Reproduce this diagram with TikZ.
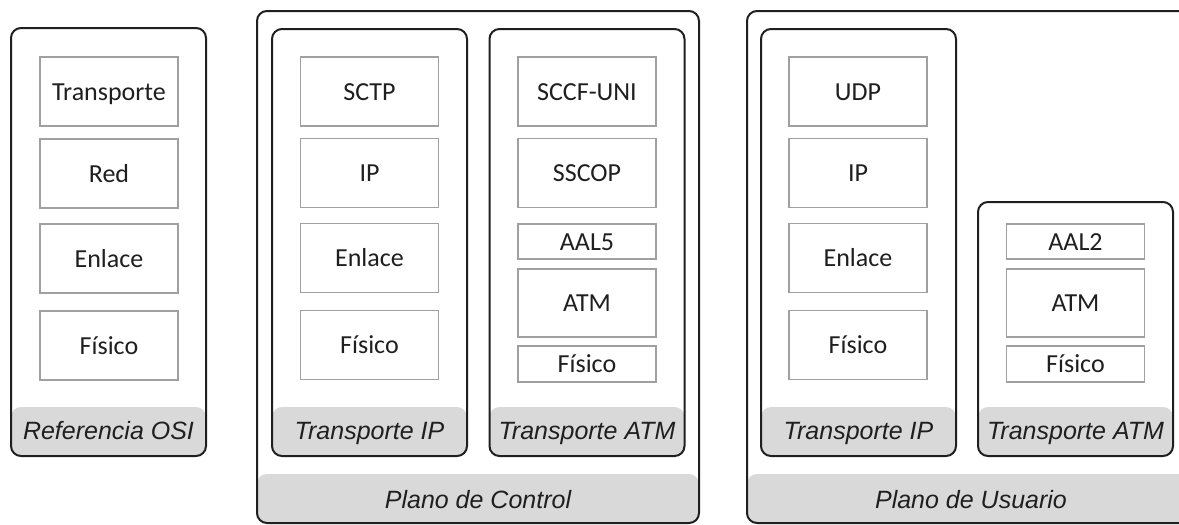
\documentclass[tikz,border=0pt]{standalone}
\usepackage{fontspec}
\setmainfont{Carlito}
\newfontfamily\rotulofont{Liberation Sans}
\usepackage{xcolor}
\usepackage{tikz}
\usetikzlibrary{positioning}

\definecolor{banda}{HTML}{D9D9D9}
\definecolor{borde}{HTML}{1F1F1F}
\definecolor{lineacapa}{HTML}{A0A0A0}

\tikzset{
	pila/.style = {draw = borde, line width = 2pt, rounded corners = 10pt, fill = white,
		inner sep = 0pt, minimum width = 195pt,
		path picture = {\fill[banda] ([yshift = 49pt]path picture bounding box.south west) rectangle (path picture bounding box.south east);}},
	capa/.style = {draw = lineacapa, line width = 1.1pt, fill = white, inner sep = 0pt,
		minimum width = 138pt, minimum height = 69pt, text height = 17pt, text depth = 0pt,
		text = borde, font = \fontsize{26}{30}\selectfont},
	rotulo/.style = {inner sep = 0pt, text height = 18pt, text depth = 0pt, text = borde,
		font = \rotulofont\itshape\fontsize{25}{29}\selectfont}
}

\begin{document}
\begin{tikzpicture}[x = 1pt, y = -1pt]
					\def\xMAX{1179};
					\def\yMAX{525};

					\path[use as bounding box] (0,0) rectangle (\xMAX,\yMAX);
					\clip (0,0) rectangle (\xMAX,\yMAX);

					\begin{scope}
						\node[pila, minimum width = 442pt, minimum height = 512pt] (control) at (478,267) {};
						\node[pila, minimum width = 448pt, minimum height = 512pt] (usuario) at (971,267) {};
						\node[rotulo] (controlR) at ([yshift = 25pt]control.south) {Plano de Control};
						\node[rotulo] (usuarioR) at ([yshift = 25pt]usuario.south) {Plano de Usuario};
					\end{scope}

					\begin{scope}
						\node[pila, minimum height = 428pt] (osi) at (108.5,242) {};
						\node[pila, minimum height = 427pt] (cip) at (369.5,242.5) {};
						\node[pila, minimum height = 427pt] (catm) at (587,242.5) {};
						\node[pila, minimum height = 427pt] (uip) at (858.5,242.5) {};
						\node[pila, minimum height = 254pt] (uatm) at (1075.5,329) {};

						\node[rotulo] (osiR) at ([yshift = 27pt]osi.south) {Referencia OSI};
						\node[rotulo] (cipR) at ([yshift = 27pt]cip.south) {Transporte IP};
						\node[rotulo] (catmR) at ([yshift = 27pt]catm.south) {Transporte ATM};
						\node[rotulo] (uipR) at ([yshift = 27pt]uip.south) {Transporte IP};
						\node[rotulo] (uatmR) at ([yshift = 27pt]uatm.south) {Transporte ATM};
					\end{scope}

					\begin{scope}
						\foreach \n/\y/\t in {1/91.5/Transporte, 2/173.5/Red, 3/258.5/Enlace, 4/345.5/Físico}
						{
							\node[capa] (osi\n) at (109,\y) {\t};
						}

						\foreach \n/\y/\t in {1/91.5/SCTP, 2/173/IP, 3/258/Enlace, 4/345/Físico}
						{
							\node[capa] (cip\n) at (369.5,\y) {\t};
						}

						\foreach \n/\y/\t in {1/91.5/UDP, 2/173/IP, 3/258/Enlace, 4/345/Físico}
						{
							\node[capa] (uip\n) at (858,\y) {\t};
						}

						\foreach \n/\y/\t in {1/91.5/SCCF-UNI, 2/173/SSCOP}
						{
							\node[capa] (catm\n) at (587,\y) {\t};
						}
						\node[capa, minimum height = 35pt] (catm3) at (587,241.5) {AAL5};
						\node[capa, minimum height = 68pt] (catm4) at (587,303) {ATM};
						\node[capa, minimum height = 36pt] (catm5) at (587,364) {Físico};

						\node[capa, minimum height = 35pt] (uatm1) at (1075.5,241.5) {AAL2};
						\node[capa, minimum height = 68pt] (uatm2) at (1075.5,303) {ATM};
						\node[capa, minimum height = 36pt] (uatm3) at (1075.5,364) {Físico};
					\end{scope}
				\end{tikzpicture}
\end{document}
